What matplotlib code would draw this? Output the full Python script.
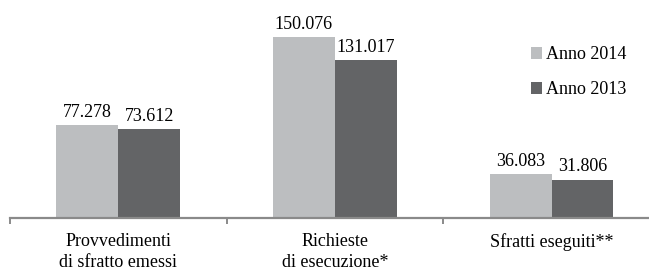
import matplotlib.pyplot as plt
import numpy as np

categorie = ['Provvedimenti\ndi sfratto emessi', 'Richieste\ndi esecuzione*', 'Sfratti eseguiti**']
anno_2014 = [77.278, 150.076, 36.083]
anno_2013 = [73.612, 131.017, 31.806]
etichette_2014 = ['77.278', '150.076', '36.083']
etichette_2013 = ['73.612', '131.017', '31.806']

plt.rcParams['font.family'] = ['Liberation Serif', 'DejaVu Serif']

fig = plt.figure(figsize=(6.49, 2.69), dpi=100)
ax = fig.add_axes([10/649, 51/269, 639/649, 218/269])

x = np.arange(len(categorie))
w = 0.286
b1 = ax.bar(x - w/2, anno_2014, w, color='#bcbec0', label='Anno 2014')
b2 = ax.bar(x + w/2, anno_2013, w, color='#636466', label='Anno 2013')
ax.bar_label(b1, labels=etichette_2014, padding=3, fontsize=13)
ax.bar_label(b2, labels=etichette_2013, padding=3, fontsize=13)

ax.set_xlim(-0.5, 2.45)
ax.set_ylim(0, 180.8)
for s in ['left', 'top', 'right']:
    ax.spines[s].set_visible(False)
ax.spines['bottom'].set_color('#8a8a8a')
ax.spines['bottom'].set_linewidth(1.6)
ax.set_yticks([])
ax.set_xticks(x)
ax.set_xticklabels(categorie, fontsize=13, linespacing=1.25)
ax.tick_params(axis='x', which='major', length=0, pad=11)
ax.set_xticks([-0.5, 0.5, 1.5], minor=True)
ax.tick_params(axis='x', which='minor', length=4, width=1.4, color='#8a8a8a')

ax.legend(loc='upper right', bbox_to_anchor=(0.984, 0.845), frameon=False, fontsize=13,
          handlelength=0.6, handleheight=0.6, handletextpad=0.2, labelspacing=1.0,
          borderaxespad=0.3)

plt.savefig('out.png', dpi=100)
